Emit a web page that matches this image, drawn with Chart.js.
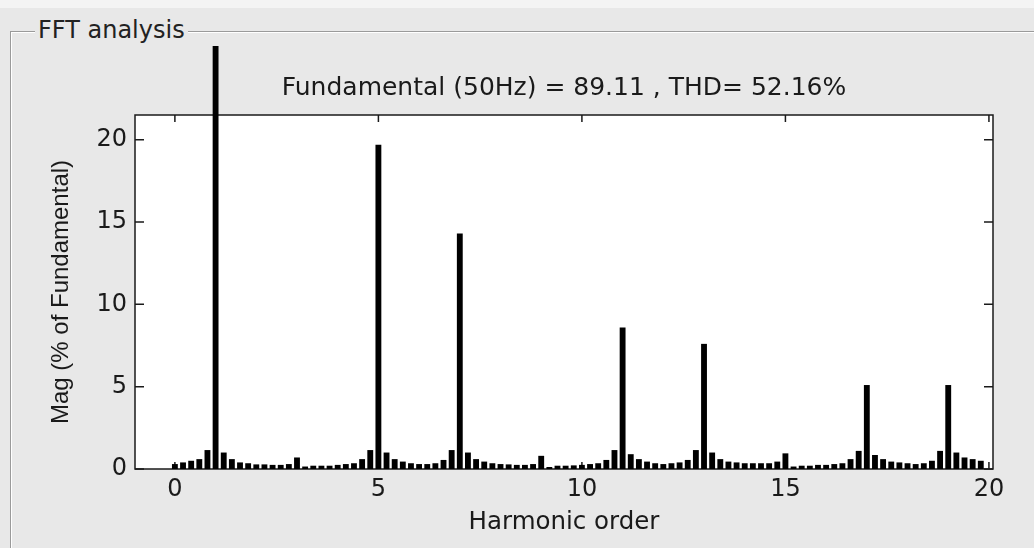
<!DOCTYPE html>
<html><head><meta charset="utf-8">
<script src="https://cdn.jsdelivr.net/npm/chart.js@4.4.1/dist/chart.umd.min.js"></script>
<style>
html,body{margin:0;padding:0;background:#e8e8e8;width:1034px;height:548px;overflow:hidden;}
#topstrip{position:absolute;left:0;top:0;width:1034px;height:8px;background:#f4f4f4;}
#panel{position:absolute;left:10px;top:31px;width:1100px;height:600px;border-top:1px solid #9a9a9a;border-left:1px solid #9a9a9a;box-shadow:inset 1px 1px 0 #ffffff;}
#legend{position:absolute;left:35px;top:15px;padding:0 3px;background:#e8e8e8;font:24px "DejaVu Sans";color:#222;line-height:30px;z-index:3;}
#wrap{position:absolute;left:0;top:0;width:1034px;height:548px;z-index:2;}
</style></head>
<body>
<div id="topstrip"></div>
<div id="panel"></div>
<div id="legend">FFT analysis</div>
<div id="wrap"><canvas id="c" width="1034" height="548"></canvas></div>
<script>
const harmonicOrder = [
  0, 0.2, 0.4, 0.6, 0.8, 1, 1.2, 1.4, 1.6, 1.8,
  2, 2.2, 2.4, 2.6, 2.8, 3, 3.2, 3.4, 3.6, 3.8,
  4, 4.2, 4.4, 4.6, 4.8, 5, 5.2, 5.4, 5.6, 5.8,
  6, 6.2, 6.4, 6.6, 6.8, 7, 7.2, 7.4, 7.6, 7.8,
  8, 8.2, 8.4, 8.6, 8.8, 9, 9.2, 9.4, 9.6, 9.8,
  10, 10.2, 10.4, 10.6, 10.8, 11, 11.2, 11.4, 11.6, 11.8,
  12, 12.2, 12.4, 12.6, 12.8, 13, 13.2, 13.4, 13.6, 13.8,
  14, 14.2, 14.4, 14.6, 14.8, 15, 15.2, 15.4, 15.6, 15.8,
  16, 16.2, 16.4, 16.6, 16.8, 17, 17.2, 17.4, 17.6, 17.8,
  18, 18.2, 18.4, 18.6, 18.8, 19, 19.2, 19.4, 19.6, 19.8
];
const magnitude = [
  0.3, 0.4, 0.5, 0.6, 1.15, 100, 1.0, 0.6, 0.4, 0.35,
  0.28, 0.28, 0.25, 0.25, 0.3, 0.7, 0.15, 0.2, 0.2, 0.2,
  0.25, 0.3, 0.35, 0.6, 1.15, 19.7, 1.0, 0.6, 0.45, 0.35,
  0.3, 0.3, 0.35, 0.55, 1.15, 14.3, 1.0, 0.6, 0.45, 0.35,
  0.3, 0.28, 0.25, 0.25, 0.3, 0.8, 0.12, 0.2, 0.2, 0.22,
  0.25, 0.3, 0.35, 0.55, 1.15, 8.6, 0.9, 0.6, 0.45, 0.35,
  0.3, 0.35, 0.4, 0.55, 1.15, 7.6, 1.0, 0.6, 0.45, 0.4,
  0.35, 0.35, 0.35, 0.35, 0.45, 0.95, 0.15, 0.2, 0.2, 0.25,
  0.25, 0.3, 0.35, 0.6, 1.1, 5.1, 0.85, 0.6, 0.45, 0.4,
  0.35, 0.3, 0.35, 0.5, 1.1, 5.1, 1.0, 0.7, 0.6, 0.5
];
const xTickValues = [0, 5, 10, 15, 20];
const yTickValues = [0, 5, 10, 15, 20];
const titleText = 'Fundamental (50Hz) = 89.11 , THD= 52.16%';
const xLabel = 'Harmonic order';
const yLabel = 'Mag (% of Fundamental)';

const ink = '#1a1a1a';
const framePlugin = {
  id: 'frame',
  beforeDraw(chart) {
    const {ctx, chartArea: a} = chart;
    ctx.save();
    ctx.fillStyle = '#ffffff';
    ctx.fillRect(a.left, a.top, a.right - a.left, a.bottom - a.top);
    ctx.restore();
  },
  beforeDatasetsDraw(chart) {
    const {ctx, chartArea: a, scales} = chart;
    ctx.save();
    ctx.strokeStyle = ink;
    ctx.lineWidth = 1.5;
    ctx.strokeRect(a.left, a.top, a.right - a.left, a.bottom - a.top);
    ctx.beginPath();
    xTickValues.forEach(v => {
      const px = scales.x.getPixelForValue(v);
      ctx.moveTo(px, a.bottom); ctx.lineTo(px, a.bottom - 7);
      ctx.moveTo(px, a.top); ctx.lineTo(px, a.top + 7);
    });
    yTickValues.forEach(v => {
      const py = scales.y.getPixelForValue(v);
      ctx.moveTo(a.left, py); ctx.lineTo(a.left + 9, py);
      ctx.moveTo(a.right, py); ctx.lineTo(a.right - 9, py);
    });
    ctx.stroke();
    ctx.restore();
  }
};

new Chart(document.getElementById('c'), {
  type: 'bar',
  data: {
    datasets: [{
      data: harmonicOrder.map((h, i) => ({x: h, y: magnitude[i]})),
      backgroundColor: '#000000',
      borderWidth: 0,
      barPercentage: 0.72,
      categoryPercentage: 1,
      clip: {left: 0, top: 69, right: 0, bottom: 0}
    }]
  },
  options: {
    responsive: false,
    animation: false,
    devicePixelRatio: 1,
    layout: {padding: {left: 0, right: 41, top: 0, bottom: 0}},
    plugins: {
      legend: {display: false},
      tooltip: {enabled: false},
      title: {
        display: true, text: titleText, fullSize: false, color: ink,
        font: {family: 'DejaVu Sans', size: 25, weight: 'normal'},
        padding: {top: 73, bottom: 12}
      }
    },
    scales: {
      x: {
        type: 'linear', min: -0.98, max: 20.1, offset: false,
        grid: {display: false, drawTicks: false, offset: false},
        border: {display: false},
        afterBuildTicks: s => { s.ticks = xTickValues.map(v => ({value: v})); },
        ticks: {font: {family: 'DejaVu Sans', size: 24}, color: ink, padding: 6, maxRotation: 0, autoSkip: false},
        title: {display: true, text: xLabel, color: ink, font: {family: 'DejaVu Sans', size: 24.5}, padding: {top: 0, bottom: 11}},
        afterFit: s => { s.height = 79; }
      },
      y: {
        min: 0, max: 21.5,
        grid: {display: false, drawTicks: false},
        border: {display: false},
        afterBuildTicks: s => { s.ticks = yTickValues.map(v => ({value: v})); },
        ticks: {font: {family: 'DejaVu Sans', size: 24}, color: ink, padding: 8, autoSkip: false},
        title: {display: true, text: yLabel, color: ink, font: {family: 'Liberation Sans', size: 24}, padding: {top: 47, bottom: 0}},
        afterFit: s => { s.width = 135; }
      }
    }
  },
  plugins: [framePlugin]
});
</script>
</body></html>
